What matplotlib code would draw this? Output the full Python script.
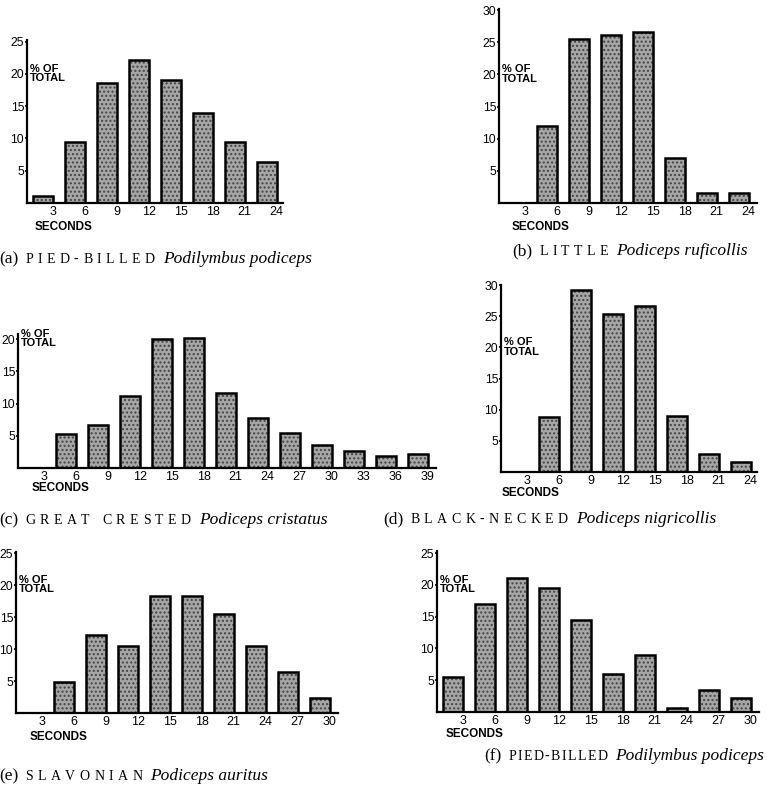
import numpy as np
import matplotlib
matplotlib.use('Agg')
from matplotlib import pyplot as plt

# Dive durations of grebes, % of total per 3-second bin

W, H = 768, 785
BIN = 32   # pixels per 3-second bin

secs_a = [3, 6, 9, 12, 15, 18, 21, 24]
pct_a = [1.1, 9.5, 18.6, 22.2, 19.1, 14.0, 9.4, 6.3]

secs_b = [3, 6, 9, 12, 15, 18, 21, 24]
pct_b = [0, 12.0, 25.5, 26.1, 26.6, 7.0, 1.5, 1.5]

secs_c = [3, 6, 9, 12, 15, 18, 21, 24, 27, 30, 33, 36, 39]
pct_c = [0, 5.3, 6.7, 11.1, 20.0, 20.2, 11.6, 7.7, 5.5, 3.6, 2.6, 1.9, 2.2]

secs_d = [3, 6, 9, 12, 15, 18, 21, 24]
pct_d = [0, 8.8, 29.2, 25.4, 26.6, 9.0, 2.9, 1.6]

secs_e = [3, 6, 9, 12, 15, 18, 21, 24, 27, 30]
pct_e = [0, 4.9, 12.2, 10.5, 18.3, 18.3, 15.5, 10.5, 6.4, 2.3]

secs_f = [3, 6, 9, 12, 15, 18, 21, 24, 27, 30]
pct_f = [5.5, 17.0, 21.1, 19.5, 14.4, 5.9, 9.0, 0.7, 3.4, 2.2]

letters = ['(a)', '(b)', '(c)', '(d)', '(e)', '(f)']
common = ['PIED-BILLED', 'LITTLE', 'GREAT CRESTED', 'BLACK-NECKED', 'SLAVONIAN', 'PIED-BILLED']
latin = ['Podilymbus podiceps', 'Podiceps ruficollis', 'Podiceps cristatus',
         'Podiceps nigricollis', 'Podiceps auritus', 'Podilymbus podiceps']
yticks = [[5, 10, 15, 20, 25], [5, 10, 15, 20, 25, 30], [5, 10, 15, 20],
          [5, 10, 15, 20, 25, 30], [5, 10, 15, 20, 25], [5, 10, 15, 20, 25]]
secs = [secs_a, secs_b, secs_c, secs_d, secs_e, secs_f]
pcts = [pct_a, pct_b, pct_c, pct_d, pct_e, pct_f]

# layout, in pixels: y-axis x, baseline y, px per %, x extent (bins), y top,
# SECONDS offset, caption left / right / baseline
layout = [
    dict(x0=27, base=203, sc=6.45, xmax=8.0, ytop=25.3, sec=(8, 24), cap=(-1, 322, 263)),
    dict(x0=499, base=203, sc=6.43, xmax=8.05, ytop=30.2, sec=(13, 24), cap=(512, 762, 255)),
    dict(x0=18, base=468, sc=6.45, xmax=13.05, ytop=20.8, sec=(14, 20), cap=(-1, 374, 524)),
    dict(x0=501, base=472, sc=6.23, xmax=8.0, ytop=30.0, sec=(1, 21), cap=(383, 762, 523)),
    dict(x0=16, base=713, sc=6.4, xmax=10.05, ytop=25.2, sec=(14, 24), cap=(-1, 288, 780)),
    dict(x0=437, base=712, sc=6.36, xmax=10.05, ytop=25.3, sec=(9, 22), cap=(484, 764, 760)),
]

LABEL_FONT = 'Liberation Sans'
SERIF = 'Liberation Serif'

fig = plt.figure(figsize=(W / 100, H / 100), dpi=100)

for s, p, yt, L in zip(secs, pcts, yticks, layout):
    n = len(s)
    w = L['xmax'] * BIN
    h = L['ytop'] * L['sc']
    ax = fig.add_axes([L['x0'] / W, 1 - L['base'] / H, w / W, h / H])
    ax.patch.set_alpha(0)
    x = np.arange(n) + 0.5
    # stippled grey fill, then black outline
    ax.bar(x, p, width=0.63, color='#a6a6a6', edgecolor='#444444', linewidth=0,
           hatch='....', zorder=2)
    ax.bar(x, p, width=0.63, fill=False, edgecolor='black', linewidth=1.8, zorder=3)
    ax.set_xlim(0, L['xmax'])
    ax.set_ylim(0, L['ytop'])
    for side in ('top', 'right'):
        ax.spines[side].set_visible(False)
    for side in ('left', 'bottom'):
        ax.spines[side].set_linewidth(1.6)
    ax.set_xticks(np.arange(n) + 0.8, [str(v) for v in s])
    ax.set_yticks(yt, [str(v) for v in yt])
    ax.tick_params(axis='x', length=0, pad=2, labelsize=9)
    ax.tick_params(axis='y', length=1.5, width=1.2, pad=0.5, labelsize=8.8)
    for lab in ax.get_xticklabels() + ax.get_yticklabels():
        lab.set_family(LABEL_FONT)
    ax.annotate('% OF\nTOTAL', xy=(0, 21.6), xytext=(3, 0), textcoords='offset pixels',
                ha='left', va='top', fontsize=8, fontweight='bold', family=LABEL_FONT,
                linespacing=0.95, annotation_clip=False)
    ax.annotate('SECONDS', xy=(0, 0), xytext=(L['sec'][0], -L['sec'][1]),
                textcoords='offset pixels', ha='left', va='center', fontsize=8.5,
                fontweight='bold', family=LABEL_FONT, annotation_clip=False)

# captions: letter, letter-spaced small caps, italic binomial
fig.canvas.draw()
r = fig.canvas.get_renderer()
BIG, SMALL = 12.5, 10
GAP1, WORD_GAP, GAP2 = 7, 8, 8


def put(x, y, txt, **kw):
    return fig.text(x / W, 1 - y / H, txt, va='baseline', ha='left', family=SERIF, **kw)


def width(txt, **kw):
    t = put(0, 0, txt, **kw)
    wd = t.get_window_extent(r).width
    t.remove()
    return wd


for lt, cm, la, L in zip(letters, common, latin, layout):
    left, right, cy = L['cap']
    letters_w = [width(ch, fontsize=SMALL) for ch in cm if ch != ' ']
    natural = (width(lt, fontsize=BIG) + GAP1 + sum(letters_w) + WORD_GAP * cm.count(' ')
               + GAP2 + width(la, fontsize=BIG, style='italic'))
    track = min(4.5, max(0.5, (right - left - natural) / (len(letters_w) - 1)))
    put(left, cy, lt, fontsize=BIG)
    x = left + width(lt, fontsize=BIG) + GAP1
    for i, ch in enumerate(cm):
        if ch == ' ':
            x += WORD_GAP
            continue
        put(x, cy, ch, fontsize=SMALL)
        x += width(ch, fontsize=SMALL)
        if i < len(cm) - 1:
            x += track
    put(x + GAP2, cy, la, fontsize=BIG, style='italic')

fig.savefig('out.png', dpi=100)
